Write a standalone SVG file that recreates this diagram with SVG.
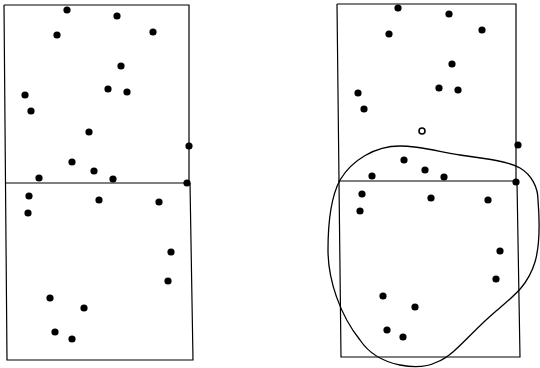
<svg xmlns="http://www.w3.org/2000/svg" width="540" height="368" viewBox="0 0 540 368">
<style>
.frame{fill:none;stroke:#000;stroke-width:1.2}
.d{fill:#000}
.curve{fill:none;stroke:#000;stroke-width:1.3}
</style>
<defs><circle id="p" r="3.6"/></defs>
<rect width="540" height="368" fill="#fff"/>
<g id="left-panel">
<path class="frame" d="M4,5 L189,5 L189,183 M4,5 L7,360 L193,360 L190,183 M5,183 L190,183"/>
<g class="d">
<use href="#p" x="67" y="10"/><use href="#p" x="117" y="16"/><use href="#p" x="57" y="35"/><use href="#p" x="153" y="32"/>
<use href="#p" x="121" y="66"/><use href="#p" x="108" y="89"/><use href="#p" x="127" y="92"/><use href="#p" x="25" y="95"/>
<use href="#p" x="31" y="111"/><use href="#p" x="89" y="132"/><use href="#p" x="189" y="146"/><use href="#p" x="72" y="162"/>
<use href="#p" x="94" y="171"/><use href="#p" x="39" y="178"/><use href="#p" x="113" y="179"/><use href="#p" x="187" y="183"/>
<use href="#p" x="29" y="196"/><use href="#p" x="28" y="213"/><use href="#p" x="99" y="200"/><use href="#p" x="159" y="202"/>
<use href="#p" x="171" y="252"/><use href="#p" x="168" y="281"/><use href="#p" x="50" y="298"/><use href="#p" x="84" y="308"/>
<use href="#p" x="55" y="332"/><use href="#p" x="72" y="339"/>
</g>
</g>
<g id="right-panel">
<path class="frame" d="M337,4 L516,4 L516,182 M337,4 L341,357 L520,357 L517,182 M338,181 L517,181"/>
<g class="d">
<use href="#p" x="398" y="8"/><use href="#p" x="449" y="14"/><use href="#p" x="389" y="34"/><use href="#p" x="482" y="30"/>
<use href="#p" x="452" y="64"/><use href="#p" x="439" y="88"/><use href="#p" x="458" y="90"/><use href="#p" x="358" y="93"/>
<use href="#p" x="364" y="109"/><use href="#p" x="518" y="145"/><use href="#p" x="404" y="160"/>
<use href="#p" x="425" y="170"/><use href="#p" x="372" y="176"/><use href="#p" x="444" y="177"/><use href="#p" x="516" y="182"/>
<use href="#p" x="362" y="194"/><use href="#p" x="431" y="198"/><use href="#p" x="488" y="200"/><use href="#p" x="360" y="211"/>
<use href="#p" x="500" y="251"/><use href="#p" x="496" y="279"/><use href="#p" x="383" y="296"/><use href="#p" x="415" y="307"/>
<use href="#p" x="387" y="330"/><use href="#p" x="403" y="337"/>
</g>
<circle cx="422" cy="131" r="3" fill="#fff" stroke="#000" stroke-width="1.6"/>
<path class="curve" d="M400,146 C420,146 440,152 460,155 C490,159 510,162 520,168 C532,175 538,188 538,200 C540,225 540,245 535,262 C528,285 515,295 495,312 C470,333 455,355 437,362 C425,368 410,367 400,365 C385,362 370,355 360,340 C340,315 328,280 328,250 C328,220 332,195 340,180 C352,160 375,146 400,146 Z"/>
</g>
</svg>
